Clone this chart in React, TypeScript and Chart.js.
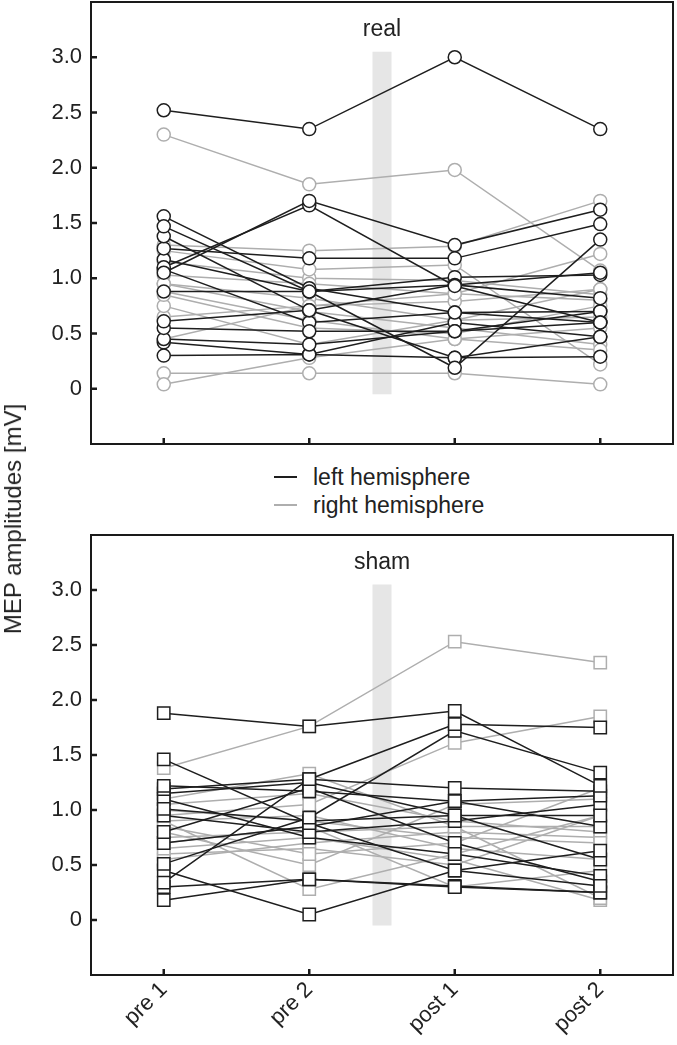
import React, { useEffect, useRef } from "react";
import { Chart, registerables } from "chart.js";
Chart.register(...registerables);

const timepoints = ["pre 1", "pre 2", "post 1", "post 2"];
const yTickValues = [0, 0.5, 1, 1.5, 2, 2.5, 3];
const yMin = -0.5;
const yMax = 3.5;
const bandFrom = -0.05;
const bandTo = 3.05;

const realLeft: number[][] = [
  [2.52, 2.35, 3.0, 2.35],
  [1.05, 1.7, 1.3, 1.62],
  [1.1, 1.66, 0.93, 0.6],
  [1.47, 0.88, 0.19, 1.35],
  [1.38, 0.71, 0.28, 0.47],
  [1.56, 0.91, 0.69, 0.6],
  [1.27, 1.18, 1.18, 1.49],
  [1.17, 0.88, 0.94, 1.05],
  [0.88, 0.88, 1.01, 1.03],
  [0.61, 0.71, 0.94, 0.82],
  [0.55, 0.52, 0.52, 0.7],
  [0.45, 0.4, 0.52, 0.6],
  [0.42, 0.31, 0.6, 0.47],
  [0.3, 0.31, 0.28, 0.29],
  [1.08, 0.6, 0.69, 0.7],
];

const realRight: number[][] = [
  [2.3, 1.85, 1.98, 1.07],
  [1.3, 1.25, 1.29, 1.7],
  [0.04, 0.28, 0.45, 0.55],
  [0.14, 0.14, 0.14, 0.04],
  [0.45, 0.75, 0.86, 1.22],
  [1.25, 1.08, 1.12, 0.22],
  [0.95, 0.82, 0.62, 0.65],
  [0.85, 0.55, 0.5, 0.75],
  [0.75, 0.4, 0.62, 0.9],
  [1.03, 0.95, 0.86, 0.8],
  [0.88, 0.62, 0.45, 0.35],
  [0.65, 0.75, 0.79, 0.9],
  [0.95, 0.7, 0.55, 0.4],
  [1.15, 1.0, 0.98, 0.85],
];

const shamLeft: number[][] = [
  [1.88, 1.76, 1.9, 1.22],
  [0.34, 1.28, 1.78, 1.75],
  [0.51, 0.93, 1.72, 1.34],
  [1.46, 0.88, 0.45, 0.31],
  [1.22, 1.17, 1.08, 1.13],
  [1.19, 1.28, 1.2, 1.17],
  [1.01, 0.9, 0.95, 0.95],
  [0.45, 0.05, 0.45, 0.63],
  [0.3, 0.37, 0.3, 0.25],
  [0.18, 0.37, 0.31, 0.25],
  [0.95, 0.8, 0.9, 1.05],
  [1.1, 0.75, 0.6, 0.4],
  [0.8, 1.2, 0.7, 0.35],
  [0.7, 0.85, 1.08, 0.85],
  [1.15, 1.25, 0.95, 0.55],
];

const shamRight: number[][] = [
  [1.38, 1.76, 2.53, 2.34],
  [0.95, 1.05, 1.61, 1.85],
  [1.1, 1.33, 0.85, 0.2],
  [0.9, 0.28, 0.6, 0.95],
  [0.65, 0.75, 0.55, 0.18],
  [0.85, 0.6, 0.7, 1.2],
  [0.75, 0.8, 0.85, 0.85],
  [1.0, 0.9, 0.75, 0.7],
  [0.6, 0.65, 0.5, 0.95],
  [0.8, 0.5, 1.05, 1.1],
  [0.7, 0.85, 0.3, 0.45],
  [1.05, 1.15, 0.9, 0.8],
  [0.9, 0.95, 0.65, 0.55],
  [0.55, 0.7, 0.8, 0.75],
];

const FONT = '"Liberation Sans", Arial, Helvetica, sans-serif';
const BLACK = "#1e1e1e";
const GRAY = "#aeaeae";
const TEXT = "#222222";

const panelPlugin = {
  id: "panelDeco",
  beforeDatasetsDraw(chart: any, _args: any, opts: any) {
    const { ctx, chartArea, scales } = chart;
    const x = scales.x;
    const y = scales.y;
    const cx = (x.getPixelForValue(1) + x.getPixelForValue(2)) / 2;
    const top = y.getPixelForValue(bandTo);
    const bot = y.getPixelForValue(bandFrom);
    ctx.save();
    ctx.fillStyle = "#e6e6e6";
    ctx.fillRect(cx - 9.5, top, 19, bot - top);
    ctx.fillStyle = TEXT;
    ctx.font = `23px ${FONT}`;
    ctx.textAlign = "center";
    ctx.textBaseline = "middle";
    ctx.fillText(opts.title, cx, chartArea.top + 28);
    ctx.restore();
  },
  afterDraw(chart: any) {
    const { ctx, chartArea, scales } = chart;
    const { left, right, top, bottom } = chartArea;
    ctx.save();
    ctx.strokeStyle = "#1a1a1a";
    ctx.lineWidth = 2;
    ctx.strokeRect(left, top, right - left, bottom - top);
    ctx.lineWidth = 2.5;
    ctx.beginPath();
    yTickValues.forEach((v) => {
      const py = scales.y.getPixelForValue(v);
      ctx.moveTo(left, py);
      ctx.lineTo(left + 6, py);
    });
    timepoints.forEach((_t, i) => {
      const px = scales.x.getPixelForValue(i);
      ctx.moveTo(px, bottom);
      ctx.lineTo(px, bottom - 6);
    });
    ctx.stroke();
    ctx.restore();
  },
};

function buildDatasets(left: number[][], right: number[][], style: string) {
  const radius = style === "rect" ? 8.7 : 6.5;
  const mk = (vals: number[], color: string, label: string) => ({
    label,
    data: vals,
    borderColor: color,
    borderWidth: 1.5,
    pointStyle: style,
    pointRadius: radius,
    pointBorderWidth: 1.5,
    pointBackgroundColor: "#ffffff",
    pointBorderColor: color,
    fill: false,
    tension: 0,
  });
  return [
    ...left.map((v, i) => mk(v, BLACK, `left ${i + 1}`)),
    ...right.map((v, i) => mk(v, GRAY, `right ${i + 1}`)),
  ];
}

function makeChart(
  canvas: HTMLCanvasElement,
  title: string,
  left: number[][],
  right: number[][],
  style: string,
  showX: boolean,
  padTop: number,
  xHeight: number
) {
  return new Chart(canvas, {
    type: "line",
    data: { labels: timepoints, datasets: buildDatasets(left, right, style) as any },
    plugins: [panelPlugin as any],
    options: {
      responsive: false,
      animation: false,
      events: [],
      layout: { autoPadding: false, padding: { top: padTop, right: 4, left: 0, bottom: 0 } },
      plugins: {
        legend: { display: false },
        tooltip: { enabled: false },
        panelDeco: { title },
      } as any,
      scales: {
        x: {
          type: "category",
          offset: true,
          grid: { display: false, drawTicks: false },
          border: { display: false },
          ticks: {
            display: showX,
            color: TEXT,
            font: { family: FONT, size: 22 },
            minRotation: 45,
            maxRotation: 45,
            padding: 2,
            autoSkip: false,
          },
          afterFit: (s: any) => {
            s.height = xHeight;
            s.paddingLeft = 0;
            s.paddingRight = 0;
            s.paddingTop = 0;
            s.paddingBottom = 0;
          },
        },
        y: {
          type: "linear",
          min: yMin,
          max: yMax,
          grid: { display: false, drawTicks: false },
          border: { display: false },
          afterBuildTicks: (s: any) => {
            s.ticks = yTickValues.map((v) => ({ value: v }));
          },
          ticks: {
            color: TEXT,
            font: { family: FONT, size: 22 },
            padding: 9,
            callback: (v: any) => (Number(v) === 0 ? "0" : Number(v).toFixed(1)),
          },
          afterFit: (s: any) => {
            s.width = 91;
            s.paddingTop = 0;
            s.paddingBottom = 0;
            s.paddingLeft = 0;
            s.paddingRight = 0;
          },
        },
      },
    } as any,
  });
}

export default function App() {
  const topRef = useRef<HTMLCanvasElement>(null);
  const botRef = useRef<HTMLCanvasElement>(null);

  useEffect(() => {
    const c1 = makeChart(topRef.current!, "real", realLeft, realRight, "circle", false, 2, 16);
    const c2 = makeChart(botRef.current!, "sham", shamLeft, shamRight, "rect", true, 15, 70);
    return () => {
      c1.destroy();
      c2.destroy();
    };
  }, []);

  const legendText: React.CSSProperties = {
    position: "absolute",
    left: 313,
    fontFamily: FONT,
    fontSize: 23,
    lineHeight: "28px",
    color: TEXT,
    whiteSpace: "nowrap",
  };

  return (
    <div
      style={{
        position: "absolute",
        left: 0,
        top: 0,
        width: 677,
        height: 1045,
        background: "#ffffff",
        overflow: "hidden",
      }}
    >
      <canvas
        ref={topRef}
        width={677}
        height={460}
        style={{ position: "absolute", left: 0, top: 0, width: 677, height: 460 }}
      />
      <canvas
        ref={botRef}
        width={677}
        height={525}
        style={{ position: "absolute", left: 0, top: 520, width: 677, height: 525 }}
      />
      <div
        style={{
          position: "absolute",
          left: 13,
          top: 519,
          transform: "translate(-50%, -50%) rotate(-90deg)",
          fontFamily: FONT,
          fontSize: 24,
          color: TEXT,
          whiteSpace: "nowrap",
        }}
      >
        MEP amplitudes [mV]
      </div>
      <div style={{ position: "absolute", left: 274, top: 476, width: 23, height: 2, background: BLACK }} />
      <div style={{ ...legendText, top: 463 }}>left hemisphere</div>
      <div style={{ position: "absolute", left: 274, top: 504, width: 23, height: 2, background: GRAY }} />
      <div style={{ ...legendText, top: 491 }}>right hemisphere</div>
    </div>
  );
}
